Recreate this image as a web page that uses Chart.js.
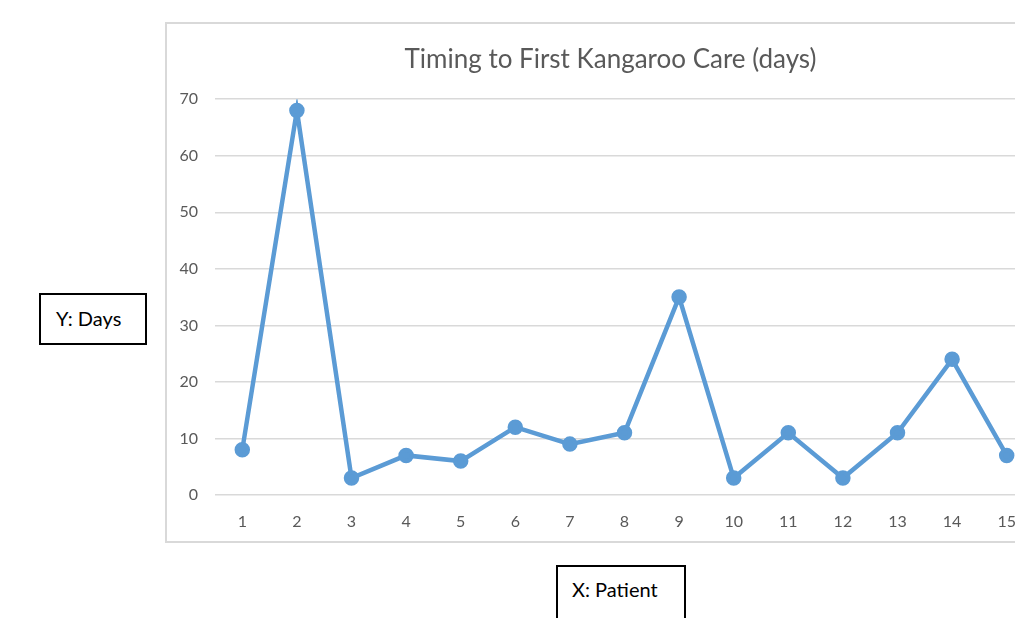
<!DOCTYPE html>
<html>
<head>
<meta charset="utf-8">
<script src="https://cdn.jsdelivr.net/npm/chart.js@4"></script>
<style>
  html, body { margin: 0; padding: 0; background: #fff; overflow: hidden; width: 1015px; height: 618px; }
  #wrap { position: absolute; left: 165px; top: 22px; width: 877px; height: 517px; border: 2px solid #d9d9d9; }
  .box { position: absolute; border: 2px solid #000; background: #fff; font-family: Lato, "Open Sans", sans-serif; font-size: 20px; color: #000; box-sizing: border-box; }
  #ybox { left: 39px; top: 293px; width: 108px; height: 52px; padding: 11px 0 0 15px; }
  #xbox { left: 556px; top: 565px; width: 130px; height: 70px; padding: 10px 0 0 14px; }
</style>
</head>
<body>
<div id="wrap"><canvas id="lineChart" width="877" height="517"></canvas></div>
<div class="box" id="ybox">Y: Days</div>
<div class="box" id="xbox">X: Patient</div>
<script>
const patients = ["1", "2", "3", "4", "5", "6", "7", "8", "9", "10", "11", "12", "13", "14", "15"];
const days = [8, 68, 3, 7, 6, 12, 9, 11, 35, 3, 11, 3, 11, 24, 7];
const yTicks = [0, 10, 20, 30, 40, 50, 60, 70];

const ctx = document.getElementById("lineChart").getContext("2d");
new Chart(ctx, {
  type: "line",
  data: {
    labels: patients,
    datasets: [
      {
        label: "Days",
        data: days,
        borderColor: "#5b9bd5",
        backgroundColor: "#5b9bd5",
        borderWidth: 4.5,
        pointRadius: 5.5,
        pointHoverRadius: 5.5,
        tension: 0,
      },
    ],
  },
  options: {
    responsive: false,
    animation: false,
    layout: { padding: { left: 10 } },
    plugins: {
      legend: { display: false },
      tooltip: { enabled: false },
      title: {
        display: true,
        text: "Timing to First Kangaroo Care (days)",
        color: "#595959",
        font: { family: "Lato", size: 26, weight: "normal" },
        padding: { top: 20, bottom: 24 },
      },
    },
    scales: {
      x: {
        offset: true,
        grid: { display: false },
        border: { display: false },
        ticks: { color: "#595959", font: { family: "Lato", size: 16 }, padding: 9, maxRotation: 0 },
        afterFit: (s) => { s.height = 46; },
      },
      y: {
        min: 0,
        max: 70,
        afterBuildTicks: (s) => { s.ticks = yTicks.map((v) => ({ value: v })); },
        grid: { color: "#d9d9d9", lineWidth: 1.5, drawTicks: false },
        border: { display: false },
        ticks: { color: "#595959", font: { family: "Lato", size: 16 }, padding: 17 },
        afterFit: (s) => { s.width = 38; },
      },
    },
  },
});
</script>
</body>
</html>
